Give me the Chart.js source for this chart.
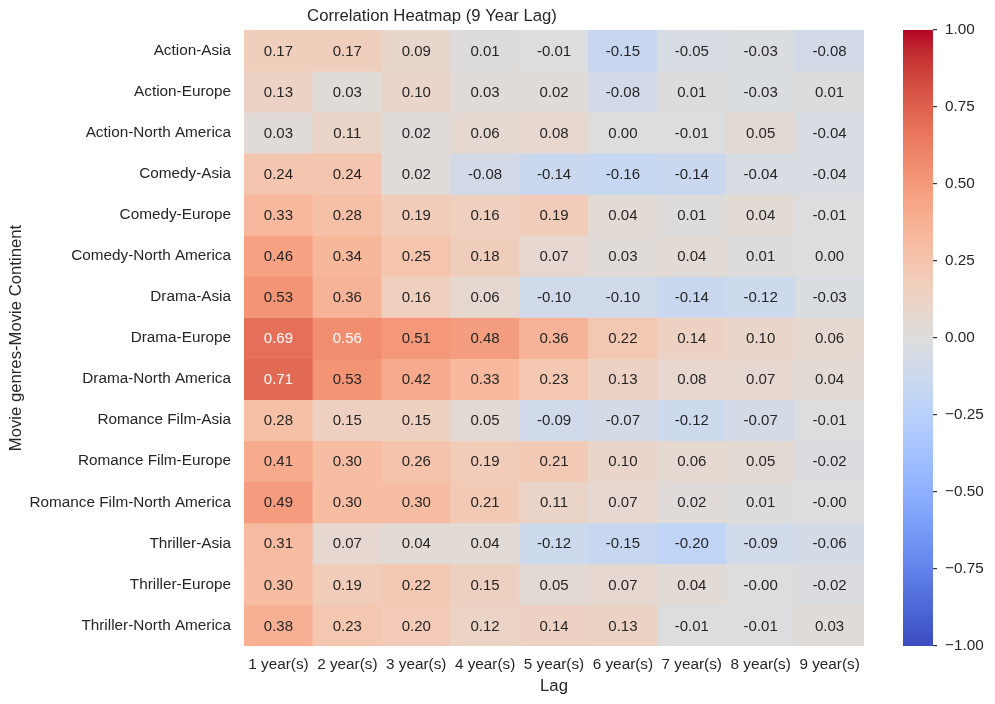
<!DOCTYPE html>
<html>
<head>
<meta charset="utf-8">
<script src="https://cdn.jsdelivr.net/npm/chart.js@4.4.1/dist/chart.umd.min.js"></script>
<style>
  body { margin: 0; background: #fff; }
  #wrap { position: relative; width: 995px; height: 704px; }
  #heat { position: absolute; left: 0; top: 0; }
  #bar { position: absolute; left: 880px; top: 0; }
</style>
</head>
<body>
<div id="wrap">
  <canvas id="heat" width="880" height="704"></canvas>
  <canvas id="bar" width="115" height="704"></canvas>
</div>
<script>
// rows / columns of the heatmap
const rows = [
  'Action-Asia', 'Action-Europe', 'Action-North America',
  'Comedy-Asia', 'Comedy-Europe', 'Comedy-North America',
  'Drama-Asia', 'Drama-Europe', 'Drama-North America',
  'Romance Film-Asia', 'Romance Film-Europe', 'Romance Film-North America',
  'Thriller-Asia', 'Thriller-Europe', 'Thriller-North America'
];
const lags = ['1 year(s)', '2 year(s)', '3 year(s)', '4 year(s)', '5 year(s)',
              '6 year(s)', '7 year(s)', '8 year(s)', '9 year(s)'];

// correlation values, one array per row
const actionAsia       = [0.17, 0.17, 0.09, 0.01, -0.01, -0.15, -0.05, -0.03, -0.08];
const actionEurope     = [0.13, 0.03, 0.10, 0.03, 0.02, -0.08, 0.01, -0.03, 0.01];
const actionNA         = [0.03, 0.11, 0.02, 0.06, 0.08, 0.00, -0.01, 0.05, -0.04];
const comedyAsia       = [0.24, 0.24, 0.02, -0.08, -0.14, -0.16, -0.14, -0.04, -0.04];
const comedyEurope     = [0.33, 0.28, 0.19, 0.16, 0.19, 0.04, 0.01, 0.04, -0.01];
const comedyNA         = [0.46, 0.34, 0.25, 0.18, 0.07, 0.03, 0.04, 0.01, 0.00];
const dramaAsia        = [0.53, 0.36, 0.16, 0.06, -0.10, -0.10, -0.14, -0.12, -0.03];
const dramaEurope      = [0.69, 0.56, 0.51, 0.48, 0.36, 0.22, 0.14, 0.10, 0.06];
const dramaNA          = [0.71, 0.53, 0.42, 0.33, 0.23, 0.13, 0.08, 0.07, 0.04];
const romanceAsia      = [0.28, 0.15, 0.15, 0.05, -0.09, -0.07, -0.12, -0.07, -0.01];
const romanceEurope    = [0.41, 0.30, 0.26, 0.19, 0.21, 0.10, 0.06, 0.05, -0.02];
const romanceNA        = [0.49, 0.30, 0.30, 0.21, 0.11, 0.07, 0.02, 0.01, -0.001];
const thrillerAsia     = [0.31, 0.07, 0.04, 0.04, -0.12, -0.15, -0.20, -0.09, -0.06];
const thrillerEurope   = [0.30, 0.19, 0.22, 0.15, 0.05, 0.07, 0.04, -0.001, -0.02];
const thrillerNA       = [0.38, 0.23, 0.20, 0.12, 0.14, 0.13, -0.01, -0.01, 0.03];

const values = [actionAsia, actionEurope, actionNA, comedyAsia, comedyEurope, comedyNA,
  dramaAsia, dramaEurope, dramaNA, romanceAsia, romanceEurope, romanceNA,
  thrillerAsia, thrillerEurope, thrillerNA];

const cbTicks = [-1, -0.75, -0.5, -0.25, 0, 0.25, 0.5, 0.75, 1];

// matplotlib coolwarm, 33 samples
const coolwarm = [
  [59,76,192],[68,90,204],[77,104,215],[87,117,225],[98,130,234],[108,142,241],
  [119,154,247],[130,165,251],[141,176,254],[152,185,255],[163,194,255],[174,201,253],
  [184,208,249],[194,213,244],[204,217,238],[213,219,230],[221,221,221],[229,216,209],
  [236,211,197],[241,204,185],[245,196,173],[247,187,160],[247,177,148],[247,166,135],
  [244,154,123],[241,141,111],[236,127,99],[229,112,88],[222,96,77],[213,80,66],
  [203,62,56],[192,40,47],[180,4,38]
];

function cmap(v) {
  let t = Math.max(0, Math.min(1, (v + 1) / 2)) * (coolwarm.length - 1);
  let i = Math.min(Math.floor(t), coolwarm.length - 2);
  let f = t - i;
  let a = coolwarm[i], b = coolwarm[i + 1];
  return a.map((c, k) => Math.round(c + (b[k] - c) * f));
}
function rgb(c) { return 'rgb(' + c[0] + ',' + c[1] + ',' + c[2] + ')'; }
function luminance(c) {
  const lin = c.map(x => { x /= 255; return x <= 0.03928 ? x / 12.92 : Math.pow((x + 0.055) / 1.055, 2.4); });
  return 0.2126 * lin[0] + 0.7152 * lin[1] + 0.0722 * lin[2];
}

const FONT = "'Liberation Sans', Arial, sans-serif";
const TXT = '#262626';

const datasets = values.map((row, r) => ({
  label: rows[r],
  data: row.map(() => [r, r + 1]),
  vals: row,
  backgroundColor: row.map(v => rgb(cmap(v))),
  borderWidth: 0,
  barPercentage: 1,
  categoryPercentage: 1,
  grouped: false
}));

const annotate = {
  id: 'annotate',
  afterDatasetsDraw(chart) {
    const ctx = chart.ctx;
    ctx.save();
    ctx.font = '15px ' + FONT;
    ctx.textAlign = 'center';
    ctx.textBaseline = 'middle';
    chart.data.datasets.forEach((ds, d) => {
      chart.getDatasetMeta(d).data.forEach((el, i) => {
        const v = ds.vals[i];
        const p = el.getCenterPoint();
        ctx.fillStyle = luminance(cmap(v)) > 0.408 ? TXT : '#ffffff';
        ctx.fillText(v.toFixed(2), p.x, p.y + 1);
      });
    });
    ctx.restore();
  }
};

new Chart(document.getElementById('heat'), {
  type: 'bar',
  data: { labels: lags, datasets: datasets },
  plugins: [annotate],
  options: {
    responsive: false,
    animation: false,
    devicePixelRatio: 1,
    layout: { padding: { top: 0, right: 16, bottom: 0, left: 0 } },
    plugins: {
      legend: { display: false },
      tooltip: { enabled: false },
      title: {
        display: true,
        text: 'Correlation Heatmap (9 Year Lag)',
        color: TXT,
        font: { family: FONT, size: 16.7, weight: 'normal' },
        padding: { top: 6, bottom: 4 }
      }
    },
    scales: {
      x: {
        type: 'category',
        grid: { display: false, drawTicks: false },
        border: { display: false },
        ticks: { color: TXT, font: { family: FONT, size: 15.3 }, padding: 10, maxRotation: 0, autoSkip: false },
        title: { display: true, text: 'Lag', color: TXT, font: { family: FONT, size: 16.7 }, padding: { top: 0, bottom: 8 } },
        afterFit: (s) => { s.height = 58; }
      },
      y: {
        type: 'linear',
        min: 0,
        max: rows.length,
        reverse: true,
        grid: { display: false, drawTicks: false },
        border: { display: false },
        afterBuildTicks: (axis) => { axis.ticks = rows.map((r, i) => ({ value: i + 0.5 })); },
        ticks: {
          color: TXT, font: { family: FONT, size: 15.3 }, padding: 13, autoSkip: false,
          callback: (v) => rows[Math.floor(v)]
        },
        title: { display: true, text: 'Movie genres-Movie Continent', color: TXT, font: { family: FONT, size: 16.7 }, padding: { top: 6, bottom: 0 } },
        afterFit: (s) => { s.width = 244; }
      }
    }
  }
});

// colour bar
let grad = null;
function barGradient(ctx) {
  const chart = ctx.chart;
  const area = chart.chartArea;
  if (!area) return null;
  if (!grad) {
    grad = chart.ctx.createLinearGradient(0, area.bottom, 0, area.top);
    coolwarm.forEach((c, i) => grad.addColorStop(i / (coolwarm.length - 1), rgb(c)));
  }
  return grad;
}

new Chart(document.getElementById('bar'), {
  type: 'bar',
  data: {
    labels: [''],
    datasets: [{ data: [[-1, 1]], backgroundColor: barGradient, borderWidth: 0, barPercentage: 1, categoryPercentage: 1 }]
  },
  options: {
    responsive: false,
    animation: false,
    devicePixelRatio: 1,
    layout: { padding: { top: 30, right: 0, bottom: 58, left: 23 } },
    plugins: { legend: { display: false }, tooltip: { enabled: false } },
    scales: {
      x: { display: false },
      y: {
        position: 'right',
        min: -1,
        max: 1,
        afterBuildTicks: (axis) => { axis.ticks = cbTicks.map(v => ({ value: v })); },
        grid: { drawOnChartArea: false, drawTicks: true, tickLength: 4, color: '#333333', lineWidth: 1.2 },
        border: { display: false },
        ticks: {
          color: TXT, font: { family: FONT, size: 15.3 }, padding: 8,
          callback: (v) => v.toFixed(2).replace('-', '\u2212')
        },
        afterFit: (s) => { s.width = 62; }
      }
    }
  }
});
</script>
</body>
</html>
